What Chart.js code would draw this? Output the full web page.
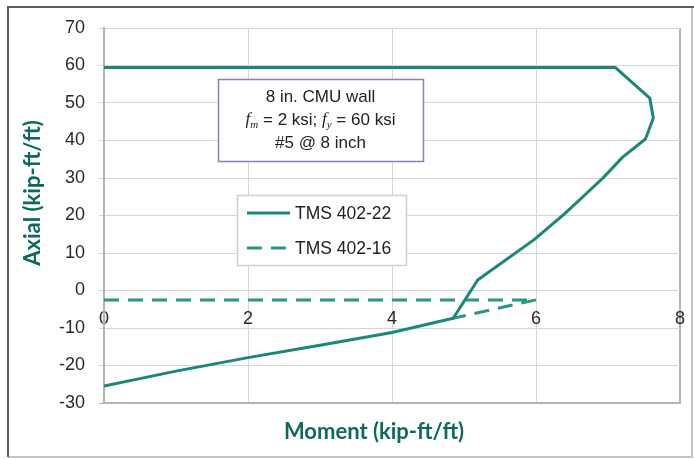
<!DOCTYPE html>
<html><head><meta charset="utf-8">
<script src="https://cdn.jsdelivr.net/npm/chart.js@4"></script>
<style>html,body{margin:0;padding:0;background:#fff}#wrap{width:694px;height:459px;position:relative}</style>
</head><body><div id="wrap"><canvas id="c" width="694" height="459"></canvas></div>
<script>
// ---- data ----
const seriesLabels = ['TMS 402-22', 'TMS 402-16'];
const tms22Moment = [0, 7.1, 7.58, 7.63, 7.52, 7.2, 6.93, 6.4, 5.97, 5.19, 4.85, 4.0, 3.0, 2.0, 1.0, 0];
const tms22Axial  = [59.5, 59.5, 51.3, 46.0, 40.4, 35.5, 30.0, 20.5, 13.5, 2.8, -7.4, -11.2, -14.6, -17.9, -21.5, -25.5];
const tms16Moment = [0, 6.0, 4.85];
const tms16Axial  = [-2.5, -2.5, -7.4];
const xTickValues = [0, 2, 4, 6, 8];
const yTickValues = [70, 60, 50, 40, 30, 20, 10, 0, -10, -20, -30];
const xTitle = 'Moment (kip-ft/ft)';
const yTitle = 'Axial (kip-ft/ft)';
const noteLine1 = '8 in. CMU wall';
const noteLine2 = [
  {t: 'f', it: true}, {t: 'm', it: true, sub: true}, {t: ' = 2 ksi; '},
  {t: 'f', it: true}, {t: 'y', it: true, sub: true}, {t: ' = 60 ksi'}
];
const noteLine3 = '#5 @ 8 inch';

const TEAL = '#1b8778';
const TEAL2 = '#2a9686';
const TITLE_TEAL = '#0e6a5b';
const FONT = "'Liberation Sans', Arial, sans-serif";

function pts(xs, ys) { return xs.map((x, i) => ({x: x, y: ys[i]})); }

const framePlugin = {
  id: 'frame',
  beforeDraw(chart) {
    const ctx = chart.ctx;
    ctx.save();
    ctx.fillStyle = '#fff';
    ctx.fillRect(0, 0, chart.width, chart.height);
    ctx.lineWidth = 2;
    ctx.strokeStyle = '#c4c4c4';
    ctx.beginPath();
    ctx.moveTo(8, 457); ctx.lineTo(692, 457); ctx.lineTo(692, 7);
    ctx.stroke();
    ctx.strokeStyle = '#5e5e5e';
    ctx.beginPath();
    ctx.moveTo(8, 457); ctx.lineTo(8, 7); ctx.lineTo(694, 7);
    ctx.stroke();
    ctx.restore();
  },
  afterDraw(chart) {
    const ctx = chart.ctx;
    ctx.save();
    // axis titles
    ctx.fillStyle = TITLE_TEAL;
    ctx.font = "bold 22px 'Lato', " + FONT;
    ctx.textAlign = 'center';
    ctx.textBaseline = 'middle';
    ctx.fillText(xTitle, 374, 432);
    ctx.save();
    ctx.translate(33, 193);
    ctx.rotate(-Math.PI / 2);
    ctx.fillText(yTitle, 0, 0);
    ctx.restore();

    // note box
    const bx = 218, by = 79, bw = 205, bh = 82;
    ctx.fillStyle = '#fff';
    ctx.fillRect(bx, by, bw, bh);
    ctx.strokeStyle = '#8f7fae';
    ctx.lineWidth = 1.5;
    ctx.strokeRect(bx + 0.5, by + 0.5, bw, bh);
    const cx = bx + bw / 2;
    ctx.fillStyle = '#222';
    ctx.font = '17px ' + FONT;
    ctx.textAlign = 'center';
    ctx.textBaseline = 'middle';
    ctx.fillText(noteLine1, cx, 97);
    ctx.fillText(noteLine3, cx, 143);
    // rich line 2
    const segFont = s => (s.it ? 'italic ' : '') + (s.sub ? '11px ' : '17px ') + "'Liberation Serif', serif";
    const segFont2 = s => s.it ? segFont(s) : '17px ' + FONT;
    let total = 0;
    noteLine2.forEach(s => { ctx.font = segFont2(s); s.w = ctx.measureText(s.t).width; total += s.w; });
    let x = cx - total / 2;
    ctx.textAlign = 'left';
    noteLine2.forEach(s => {
      ctx.font = segFont2(s);
      ctx.fillText(s.t, x, s.sub ? 125 : 120);
      x += s.w;
    });

    // legend box
    const lx = 237, ly = 195, lw = 169, lh = 70;
    ctx.fillStyle = '#fff';
    ctx.fillRect(lx, ly, lw, lh);
    ctx.strokeStyle = '#cfcfcf';
    ctx.lineWidth = 1.5;
    ctx.strokeRect(lx + 0.5, ly + 0.5, lw, lh);
    const rows = [213, 248];
    chart.data.datasets.forEach((ds, i) => {
      const yy = rows[i];
      ctx.strokeStyle = ds.borderColor;
      ctx.lineWidth = 3;
      ctx.setLineDash(ds.borderDash || []);
      ctx.beginPath();
      ctx.moveTo(247, yy); ctx.lineTo(290, yy);
      ctx.stroke();
      ctx.setLineDash([]);
      ctx.fillStyle = '#222';
      ctx.font = '17.5px ' + FONT;
      ctx.textAlign = 'left';
      ctx.textBaseline = 'middle';
      ctx.fillText(ds.label, 295, yy + 1);
    });
    ctx.restore();
  }
};

const gridCol = '#d6d6d6';
const edgeCol = '#b4b4b4';

new Chart(document.getElementById('c'), {
  type: 'line',
  data: {
    datasets: [
      { label: seriesLabels[0], data: pts(tms22Moment, tms22Axial), borderColor: TEAL, borderWidth: 3,
        pointRadius: 0, tension: 0, fill: false, xAxisID: 'x', yAxisID: 'y', borderJoinStyle: 'round' },
      { label: seriesLabels[1], data: pts(tms16Moment, tms16Axial), borderColor: TEAL2, borderWidth: 3,
        borderDash: [15, 9], pointRadius: 0, tension: 0, fill: false, xAxisID: 'x', yAxisID: 'y' }
    ]
  },
  options: {
    responsive: false,
    animation: false,
    devicePixelRatio: 1,
    layout: { padding: { top: 28, right: 14, left: 0, bottom: 0 } },
    plugins: { legend: { display: false }, tooltip: { enabled: false } },
    scales: {
      x: {
        type: 'linear', position: 'bottom', min: 0, max: 8,
        afterBuildTicks(s) { s.ticks = xTickValues.map(v => ({value: v})); },
        ticks: { display: false },
        grid: { color: c => (c.tick && c.tick.value === 8 ? edgeCol : gridCol), lineWidth: c => (c.tick && c.tick.value === 8 ? 2 : 1), drawTicks: false },
        border: { display: true, color: edgeCol, width: 2 },
        afterFit(s) { s.height = 56; s.paddingLeft = 0; s.paddingRight = 0; }
      },
      x2: {
        type: 'linear', position: { y: 0 }, min: 0, max: 8,
        afterBuildTicks(s) { s.ticks = xTickValues.map(v => ({value: v})); },
        ticks: { padding: 18, color: '#2a2a2a', font: { family: FONT, size: 18 } },
        grid: { display: false, drawTicks: false },
        border: { display: false },
        afterFit(s) { s.height = 0; s.paddingLeft = 0; s.paddingRight = 0; }
      },
      y: {
        type: 'linear', position: 'left', min: -30, max: 70,
        afterBuildTicks(s) { s.ticks = yTickValues.slice().reverse().map(v => ({value: v})); },
        ticks: { padding: 14, color: '#2a2a2a', font: { family: FONT, size: 18 } },
        grid: { color: c => (c.tick && c.tick.value === -30 ? edgeCol : gridCol), tickLength: 5 },
        border: { color: edgeCol, width: 2 },
        afterFit(s) { s.width = 104; s.paddingTop = 0; s.paddingBottom = 0; }
      }
    }
  },
  plugins: [framePlugin]
});
</script>
</body></html>
